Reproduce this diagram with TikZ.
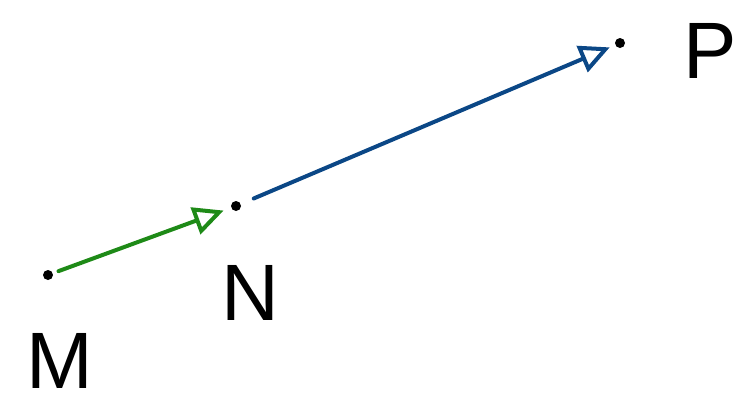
\documentclass[tikz,border=0pt]{standalone}
\usepackage{fontspec}
\setmainfont{Liberation Sans}
\usetikzlibrary{arrows.meta}
\definecolor{vgreen}{HTML}{1E8A17}
\definecolor{vblue}{HTML}{0B4786}
\begin{document}
\begin{tikzpicture}[x=1pt,y=-1pt,
  pt/.style={circle,fill=black,inner sep=0pt,minimum size=10pt},
  lab/.style={font=\fontsize{80}{80}\selectfont,inner sep=0pt,anchor=base},
  vec/.style={line width=4pt,line cap=round,-{Triangle[open,length=30pt,width=28pt,line width=4pt]}}]
\useasboundingbox (0,0) rectangle (738,408);
\node[pt] (M) at (48,275) {};
\node[pt] (N) at (236,206) {};
\node[pt] (P) at (620,43) {};
\node[lab] (lM) at (60,388) {M};
\node[lab] (lN) at (250,320) {N};
\node[lab] (lP) at (710,78) {P};
\draw[vec,vgreen,shorten <=6pt,shorten >=8pt] (M) -- (N);
\draw[vec,vblue,shorten <=14pt,shorten >=6pt] (N) -- (P);
\end{tikzpicture}
\end{document}
